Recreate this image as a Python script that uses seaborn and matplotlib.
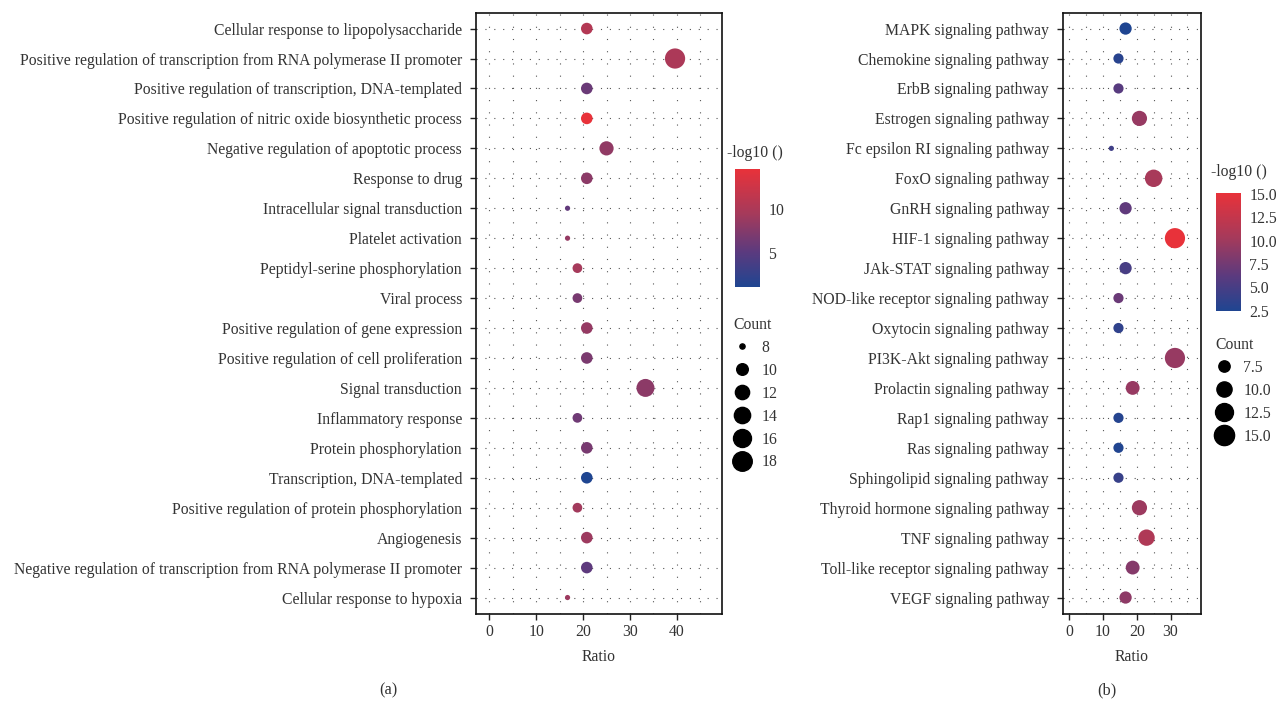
import numpy as np
import pandas as pd
import matplotlib
matplotlib.use("Agg")
import matplotlib.pyplot as plt
import seaborn as sns
from matplotlib.colors import LinearSegmentedColormap, Normalize
from matplotlib.cm import ScalarMappable
from matplotlib.lines import Line2D

# ---------------- data (a) GO terms ----------------
go_terms = [
    "Cellular response to lipopolysaccharide",
    "Positive regulation of transcription from RNA polymerase II promoter",
    "Positive regulation of transcription, DNA-templated",
    "Positive regulation of nitric oxide biosynthetic process",
    "Negative regulation of apoptotic process",
    "Response to drug",
    "Intracellular signal transduction",
    "Platelet activation",
    "Peptidyl-serine phosphorylation",
    "Viral process",
    "Positive regulation of gene expression",
    "Positive regulation of cell proliferation",
    "Signal transduction",
    "Inflammatory response",
    "Protein phosphorylation",
    "Transcription, DNA-templated",
    "Positive regulation of protein phosphorylation",
    "Angiogenesis",
    "Negative regulation of transcription from RNA polymerase II promoter",
    "Cellular response to hypoxia",
]
go_ratio = [20.8, 39.6, 20.8, 20.8, 25.0, 20.8, 16.7, 16.7, 18.8, 18.8,
            20.8, 20.8, 33.3, 18.8, 20.8, 20.8, 18.8, 20.8, 20.8, 16.7]
go_count = [10, 19, 10, 10, 12, 10, 8, 8, 9, 9,
            10, 10, 16, 9, 10, 10, 9, 10, 10, 8]
go_logp = [10.5, 10.0, 6.0, 14.6, 8.3, 8.0, 5.5, 8.5, 9.5, 6.8,
           8.5, 7.0, 8.0, 6.3, 6.8, 1.1, 9.3, 9.0, 5.3, 9.0]
go_size_ticks = [8, 10, 12, 14, 16, 18]
go_color_ticks = [5, 10]

# ---------------- data (b) KEGG pathways ----------------
kegg_terms = [
    "MAPK signaling pathway",
    "Chemokine signaling pathway",
    "ErbB signaling pathway",
    "Estrogen signaling pathway",
    "Fc epsilon RI signaling pathway",
    "FoxO signaling pathway",
    "GnRH signaling pathway",
    "HIF-1 signaling pathway",
    "JAk-STAT signaling pathway",
    "NOD-like receptor signaling pathway",
    "Oxytocin signaling pathway",
    "PI3K-Akt signaling pathway",
    "Prolactin signaling pathway",
    "Rap1 signaling pathway",
    "Ras signaling pathway",
    "Sphingolipid signaling pathway",
    "Thyroid hormone signaling pathway",
    "TNF signaling pathway",
    "Toll-like receptor signaling pathway",
    "VEGF signaling pathway",
]
kegg_ratio = [16.7, 14.6, 14.6, 20.8, 12.5, 25.0, 16.7, 31.3, 16.7, 14.6,
              14.6, 31.3, 18.8, 14.6, 14.6, 14.6, 20.8, 22.9, 18.8, 16.7]
kegg_count = [8, 7, 7, 10, 6, 12, 8, 15, 8, 7,
              7, 15, 9, 7, 7, 7, 10, 11, 9, 8]
kegg_logp = [2.45, 3.0, 6.0, 9.5, 4.5, 10.5, 6.5, 15.1, 5.0, 7.0,
             3.5, 9.5, 9.5, 2.8, 2.6, 4.0, 9.8, 11.0, 8.5, 9.0]
kegg_size_ticks = [7.5, 10.0, 12.5, 15.0]
kegg_color_ticks = [2.5, 5.0, 7.5, 10.0, 12.5, 15.0]

# ---------------- style ----------------
sns.set_theme(style="white")
plt.rcParams["font.family"] = ["Liberation Serif", "DejaVu Serif"]
FS = 11.3
TXT = "#333333"

cmap = LinearSegmentedColormap.from_list(
    "bluered",
    [(0.0, "#1F4591"), (0.3, "#5C3A7E"), (0.62, "#A53A5B"), (1.0, "#E8323A")],
)

W, H = 1278, 705
fig = plt.figure(figsize=(W / 100, H / 100), dpi=100)


def fx(px):
    return px / W


def fy(py):
    return 1 - py / H


def diam_px(c, cmin, cmax):
    return 5.2 + np.sqrt(max(c - cmin, 0) / (cmax - cmin)) * 15.0


def panel(rect, terms, ratio, count, logp, xlim, xmajor, cbar_rect, cbar_ticks,
          cbar_fmt, ctitle_xy, leg_xy, size_ticks, tag, tag_xy):
    ax = fig.add_axes(rect)
    df = pd.DataFrame({"Term": terms, "Ratio": ratio, "Count": count, "logp": logp})
    cmin, cmax = min(count), max(count)
    sizes = {c: (diam_px(c, cmin, cmax) * 0.72) ** 2 for c in sorted(set(count))}
    norm = Normalize(min(logp), max(logp))
    sns.scatterplot(data=df, x="Ratio", y="Term", hue="logp", size="Count",
                    sizes=sizes, palette=cmap, hue_norm=norm, legend=False,
                    linewidth=0, edgecolor="none", ax=ax, zorder=3)
    ax.set_xlim(*xlim)
    ax.set_ylim(len(terms) - 0.45, -0.52)
    ax.set_xticks(xmajor)
    ax.set_xticks(np.arange(0, xlim[1], 5), minor=True)
    ax.set_axisbelow(True)
    ax.grid(True, which="both", axis="x", linestyle=(0, (1, 10)), color="#555555", lw=0.8)
    ax.grid(True, which="major", axis="y", linestyle=(0, (1, 7)), color="#555555", lw=0.8)
    ax.tick_params(axis="both", which="major", direction="out", length=4, width=1,
                   color="#222222", labelsize=FS, labelcolor=TXT, left=True, bottom=True)
    ax.tick_params(axis="y", pad=6)
    ax.tick_params(axis="x", which="minor", length=0)
    ax.set_ylabel("")
    ax.set_xlabel("Ratio", fontsize=FS, color=TXT, labelpad=6)
    for s in ax.spines.values():
        s.set_color("#111111")
        s.set_linewidth(1.2)

    # colorbar
    cax = fig.add_axes(cbar_rect)
    cb = fig.colorbar(ScalarMappable(norm=norm, cmap=cmap), cax=cax)
    cb.outline.set_visible(False)
    cb.set_ticks(cbar_ticks)
    cb.ax.set_yticklabels([cbar_fmt.format(t) for t in cbar_ticks])
    cax.tick_params(axis="y", direction="in", left=True, right=True, length=5,
                    width=1.2, color="white", labelsize=FS, labelcolor=TXT, pad=6)
    fig.text(ctitle_xy[0], ctitle_xy[1], "-log10 ()", fontsize=FS, color=TXT,
             va="center", ha="left")

    # size legend
    handles = [Line2D([], [], linestyle="none", marker="o", color="black",
                      markersize=diam_px(v, cmin, cmax) * 0.72) for v in size_ticks]
    labels = [("{:g}".format(v) if cmax > 16 else "{:.1f}".format(v))
              for v in size_ticks]
    leg = ax.legend(handles, labels, title="Count", loc="upper left",
                    bbox_to_anchor=leg_xy, bbox_transform=fig.transFigure,
                    frameon=False, fontsize=FS, title_fontsize=FS,
                    labelspacing=0.44, handletextpad=0.6, borderaxespad=0,
                    handlelength=1.2, alignment="left", borderpad=0)
    for t in leg.get_texts():
        t.set_color(TXT)
    leg.get_title().set_color(TXT)

    fig.text(tag_xy[0], tag_xy[1], tag, fontsize=FS + 0.5, color=TXT,
             ha="center", va="center")
    return ax


panel([fx(476), fy(614), fx(722) - fx(476), fy(13) - fy(614)],
      go_terms, go_ratio, go_count, go_logp, (-2.8, 49.6), [0, 10, 20, 30, 40],
      [fx(735), fy(287), fx(25), 118 / H], go_color_ticks, "{:g}",
      (fx(727), fy(153)), (fx(733), fy(317)), go_size_ticks, "(a)", (fx(388), fy(690)))

panel([fx(1063), fy(614), fx(1201) - fx(1063), fy(13) - fy(614)],
      kegg_terms, kegg_ratio, kegg_count, kegg_logp, (-1.8, 39.0), [0, 10, 20, 30],
      [fx(1216), fy(311), fx(25), 118 / H], kegg_color_ticks, "{:.1f}",
      (fx(1211), fy(172)), (fx(1215), fy(337)), kegg_size_ticks, "(b)", (fx(1107), fy(690)))

fig.savefig("out.png", dpi=100)
